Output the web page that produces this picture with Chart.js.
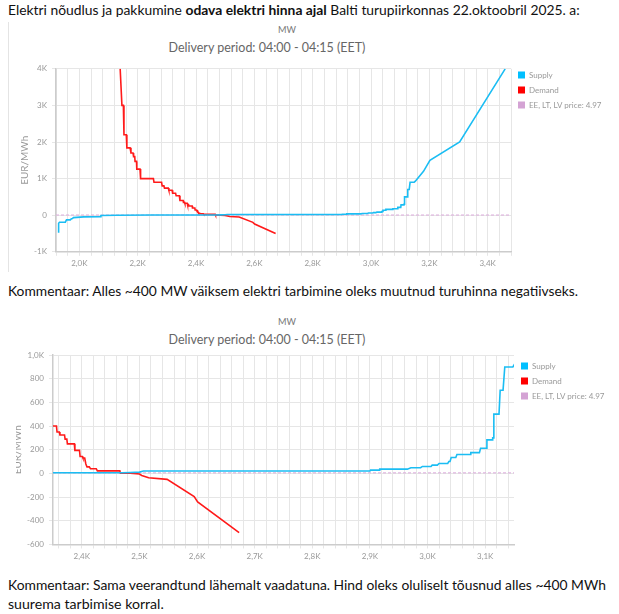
<!DOCTYPE html>
<html>
<head>
<meta charset="utf-8">
<script src="https://cdn.jsdelivr.net/npm/chart.js@4.4.1/dist/chart.umd.min.js"></script>
<style>
  body { margin: 0; background: #fff; width: 619px; height: 614px; position: relative; overflow: hidden; font-family: Lato, "Liberation Sans", sans-serif; }
  .txt { position: absolute; left: 8px; white-space: nowrap; font-size: 15px; line-height: 18px; color: #111; }
  .ttl { position: absolute; white-space: nowrap; transform: translateX(-50%); color: #777; }
  .wrap { position: absolute; overflow: hidden; }
  .wrap canvas { position: absolute; }
</style>
</head>
<body>
<div class="txt" style="top:1px" data-w="572">Elektri nõudlus ja pakkumine <b>odava elektri hinna ajal</b> Balti turupiirkonnas 22.oktoobril 2025. a:</div>

<div style="position:absolute;left:8px;top:22px;height:250px;border-left:1px solid #e4e4e4"></div>
<div class="ttl" style="left:287px;top:24px;font-size:10px;line-height:12px" data-w="18">MW</div>
<div class="ttl" style="left:267px;top:40px;font-size:13px;line-height:16px;color:#666" data-w="197">Delivery period: 04:00 - 04:15 (EET)</div>
<div class="wrap" style="left:8px;top:58px;width:611px;height:222px"><canvas id="chart1" width="611" height="240" style="left:0;top:0"></canvas></div>

<div class="txt" style="top:282px" data-w="570">Kommentaar: Alles ~400 MW väiksem elektri tarbimine oleks muutnud turuhinna negatiivseks.</div>

<div class="ttl" style="left:287px;top:316px;font-size:10px;line-height:12px" data-w="18">MW</div>
<div class="ttl" style="left:267px;top:332px;font-size:13px;line-height:16px;color:#666" data-w="197">Delivery period: 04:00 - 04:15 (EET)</div>
<div class="wrap" style="left:16px;top:344px;width:603px;height:226px"><canvas id="chart2" width="611" height="240" style="left:-8px;top:0"></canvas></div>

<div class="txt" style="top:576px" data-w="598">Kommentaar: Sama veerandtund lähemalt vaadatuna. Hind oleks oluliselt tõusnud alles ~400 MWh</div>
<div class="txt" style="top:595px" data-w="156">suurema tarbimise korral.</div>

<script>
// Supply curve (MW, EUR/MWh)
const supplyMW = [
  1929, 1929, 1932, 1952, 1956, 1969, 1972, 1976, 1980, 2015,
  2072, 2074, 2130, 2250, 2470, 2484, 2500, 2507, 2900, 2901,
  2916, 2917, 2965, 2971, 2988, 2991, 3006, 3008, 3017, 3020,
  3035, 3037, 3039, 3041, 3049, 3051, 3074, 3075, 3090, 3092,
  3102, 3103, 3112, 3113, 3114, 3115, 3124, 3126, 3131, 3134,
  3148, 3152, 3180, 3202, 3304, 3460
];
const supplyPrice = [
  -480, -220, -192, -192, -128, -128, -100, -93, -65, -47,
  -38, -10, 0, 5, 6, 8, 11, 20, 20, 28,
  28, 36, 36, 48, 48, 59, 59, 70, 70, 84,
  84, 101, 101, 134, 134, 160, 160, 176, 176, 213,
  213, 283, 283, 300, 300, 501, 501, 703, 703, 899,
  899, 930, 1200, 1500, 2000, 4000
];

// Demand curve (MW, EUR/MWh)
const demandMW = [
  2140, 2146, 2151, 2153, 2161, 2163, 2174, 2177, 2184, 2186,
  2190, 2191, 2196, 2197, 2208, 2210, 2254, 2256, 2282, 2284,
  2290, 2292, 2305, 2307, 2318, 2320, 2330, 2332, 2343, 2345,
  2356, 2357, 2361, 2362, 2370, 2371, 2374, 2375, 2387, 2388,
  2396, 2397, 2401, 2402, 2405, 2407, 2409, 2413, 2415, 2425,
  2427, 2466, 2467, 2484, 2500, 2504, 2516, 2548, 2595, 2601,
  2673
];
const demandPrice = [
  4000, 3000, 3000, 2200, 2200, 1840, 1840, 1700, 1700, 1600,
  1600, 1470, 1470, 1260, 1260, 1000, 1000, 900, 900, 800,
  800, 740, 740, 680, 680, 600, 600, 530, 530, 400,
  400, 350, 350, 325, 325, 290, 290, 250, 250, 195,
  195, 143, 143, 130, 130, 80, 55, 55, 40, 40,
  22, 22, 3, 3, -5, -17, -36, -50, -195, -240,
  -500
];

const clearingPrice = 4.97;
const legendNames = ["Supply", "Demand", "EE, LT, LV price: 4.97"];
const legendColors = ["#00bfff", "#ff0000", "#d4a3d4"];
const lineColors = ["#1bbdf3", "#ff1a1a", "#dcaadc"];

// text widths are matched to the reference by scaling the font size
document.querySelectorAll("[data-w]").forEach(el => {
  const size = parseFloat(getComputedStyle(el).fontSize);
  el.style.fontSize = (size * el.dataset.w / el.getBoundingClientRect().width).toFixed(2) + "px";
});

const toPoints = (xs, ys) => xs.map((x, i) => ({ x: x, y: ys[i] }));
const fmtX = v => (v / 1000).toFixed(1).replace(".", ",") + "K";

function buildChart(id, cfg) {
  const padding = { top: cfg.padTop, right: 0, bottom: 0, left: 0 };
  const tickFont = { family: "Lato", size: 8 };
  const gridTicks = [];
  for (let v = cfg.gridFrom; v <= cfg.gridTo; v += cfg.gridStep) gridTicks.push({ value: v });

  const chart = new Chart(document.getElementById(id), {
    type: "line",
    data: {
      datasets: [
        { label: legendNames[0], data: toPoints(supplyMW, supplyPrice), borderColor: lineColors[0], backgroundColor: legendColors[0], borderWidth: 1.6, pointRadius: 0, tension: 0 },
        { label: legendNames[1], data: toPoints(demandMW, demandPrice), borderColor: lineColors[1], backgroundColor: legendColors[1], borderWidth: 1.6, pointRadius: 0, tension: 0 },
        { label: legendNames[2], data: [{ x: cfg.xMin, y: clearingPrice }, { x: cfg.xMax, y: clearingPrice }], borderColor: lineColors[2], backgroundColor: legendColors[2], borderWidth: 1, borderDash: [3, 2], pointRadius: 0 }
      ]
    },
    options: {
      responsive: false,
      animation: false,
      events: [],
      layout: { padding: padding },
      plugins: {
        title: { display: false },
        tooltip: { enabled: false },
        legend: {
          position: "right",
          align: "start",
          labels: {
            boxWidth: 7,
            boxHeight: 7,
            padding: 7,
            color: "#999",
            font: { family: "Lato", size: 8 },
            generateLabels: ch => ch.data.datasets.map((d, i) => ({
              text: d.label, fillStyle: legendColors[i], strokeStyle: legendColors[i],
              lineWidth: 0, fontColor: "#999", hidden: false, datasetIndex: i
            }))
          }
        }
      },
      scales: {
        x: {
          type: "linear",
          min: cfg.xMin,
          max: cfg.xMax,
          afterFit: s => { s.height = 22; },
          afterBuildTicks: s => { s.ticks = gridTicks.slice(); },
          ticks: {
            autoSkip: false, maxRotation: 0, padding: 3,
            color: "#999", font: tickFont,
            callback: v => (v % cfg.xLabelStep === 0 ? fmtX(v) : "")
          },
          grid: { color: "#e6e6e6", tickLength: 4 },
          border: { color: "#cccccc", width: 1.5 }
        },
        y: {
          min: cfg.yMin,
          max: cfg.yMax,
          afterFit: s => { s.width = cfg.yWidth; },
          ticks: { stepSize: cfg.yStep, padding: 5, color: "#999", font: tickFont, callback: cfg.yFmt },
          grid: { color: "#e6e6e6", tickLength: 4 },
          border: { color: "#cccccc", width: 1.5 },
          title: { display: true, text: "EUR/MWh", color: "#999", font: { family: "Lato", size: 10 }, padding: { top: cfg.titlePad, bottom: 0 } }
        }
      }
    }
  });

  // line the plot area up with the reference picture
  for (let k = 0; k < 2; k++) {
    const a = chart.chartArea;
    padding.right += a.right - cfg.right;
    padding.bottom += (a.bottom - a.top) - cfg.height;
    chart.update();
  }
  chart.canvas.style.top = (cfg.top - chart.chartArea.top) + "px";
  return chart;
}

// overview chart
buildChart("chart1", {
  xMin: 1920, xMax: 3480, gridFrom: 1920, gridTo: 3480, gridStep: 40, xLabelStep: 200,
  yMin: -1000, yMax: 4000, yStep: 1000,
  yFmt: v => (v === 0 ? "0" : v / 1000 + "K"),
  yWidth: 48, titlePad: 11, padTop: 5,
  right: 503, top: 11, height: 183
});

// close-up chart
buildChart("chart2", {
  xMin: 2350, xMax: 3150, gridFrom: 2360, gridTo: 3140, gridStep: 20, xLabelStep: 100,
  yMin: -600, yMax: 1000, yStep: 200,
  yFmt: v => (Math.abs(v) >= 1000 ? (v / 1000).toFixed(1).replace(".", ",") + "K" : String(v)),
  yWidth: 45, titlePad: 4, padTop: 10,
  right: 506, top: 10.5, height: 189.5
});
</script>
</body>
</html>
